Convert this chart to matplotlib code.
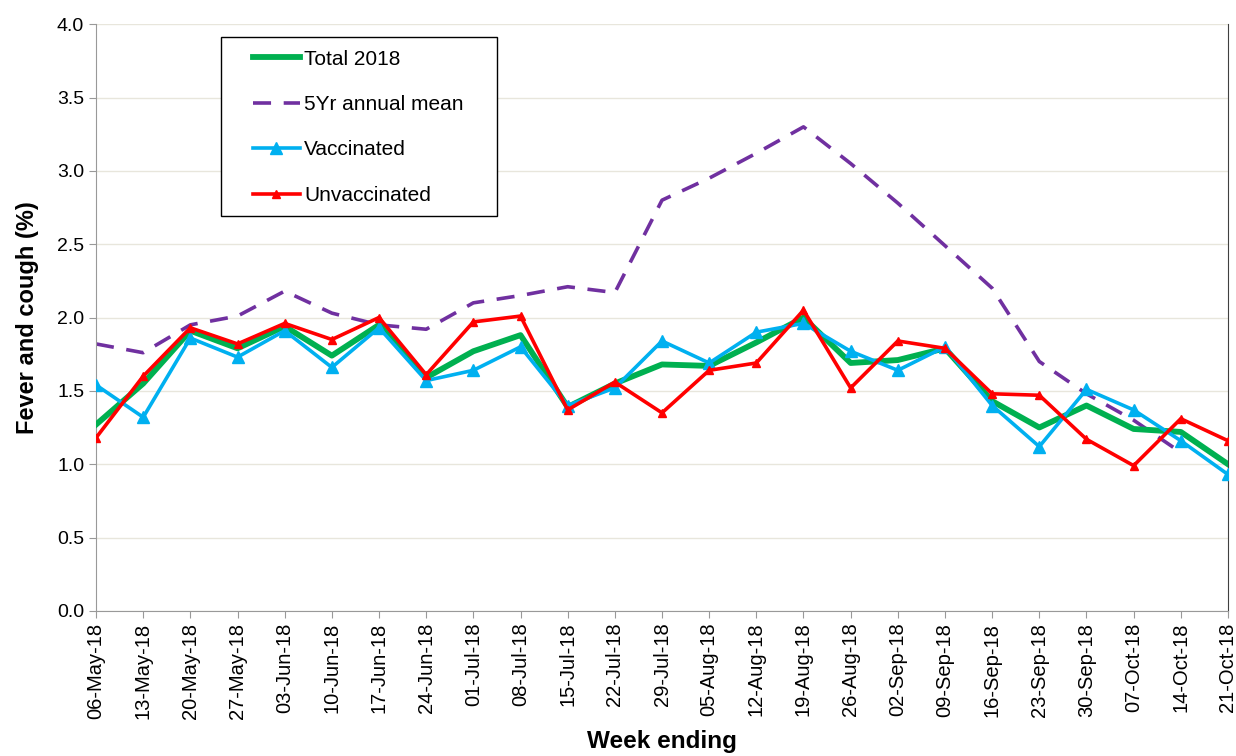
import matplotlib
matplotlib.use("Agg")
import matplotlib.pyplot as plt
from matplotlib.patches import Rectangle

plt.rcParams['font.family'] = ['Liberation Sans', 'DejaVu Sans']

weeks = ['06-May-18', '13-May-18', '20-May-18', '27-May-18', '03-Jun-18', '10-Jun-18',
         '17-Jun-18', '24-Jun-18', '01-Jul-18', '08-Jul-18', '15-Jul-18', '22-Jul-18',
         '29-Jul-18', '05-Aug-18', '12-Aug-18', '19-Aug-18', '26-Aug-18', '02-Sep-18',
         '09-Sep-18', '16-Sep-18', '23-Sep-18', '30-Sep-18', '07-Oct-18', '14-Oct-18',
         '21-Oct-18']

total_2018 = [1.27, 1.55, 1.91, 1.79, 1.94, 1.74, 1.95, 1.59, 1.77, 1.88, 1.39, 1.55,
              1.68, 1.67, 1.83, 2.00, 1.69, 1.71, 1.79, 1.43, 1.25, 1.40, 1.24, 1.22, 1.00]
mean_5yr = [1.82, 1.76, 1.95, 2.01, 2.18, 2.03, 1.95, 1.92, 2.10, 2.15, 2.21, 2.17,
            2.80, 2.95, 3.12, 3.30, 3.05, 2.78, 2.49, 2.20, 1.70, 1.48, 1.30, 1.08]
vaccinated = [1.54, 1.32, 1.86, 1.73, 1.91, 1.66, 1.93, 1.57, 1.64, 1.80, 1.40, 1.52,
              1.84, 1.69, 1.90, 1.96, 1.77, 1.64, 1.80, 1.40, 1.12, 1.51, 1.37, 1.16, 0.93]
unvaccinated = [1.18, 1.60, 1.93, 1.82, 1.96, 1.85, 2.00, 1.61, 1.97, 2.01, 1.37, 1.56,
                1.35, 1.64, 1.69, 2.05, 1.52, 1.84, 1.79, 1.48, 1.47, 1.17, 0.99, 1.31, 1.16]

fig = plt.figure(figsize=(12.36, 7.56), dpi=100)
ax = fig.add_axes([0.0777, 0.192, 0.9158, 0.776])

x = list(range(len(weeks)))
ax.plot(x, total_2018, color='#00b050', lw=4.2, label='Total 2018', zorder=3)
ax.plot(x[:len(mean_5yr)], mean_5yr, color='#7030a0', lw=2.6, dashes=(5, 3.5),
        label='5Yr annual mean', zorder=2)
ax.plot(x, vaccinated, color='#00b0f0', lw=2.6, marker='^', ms=8,
        label='Vaccinated', zorder=4)
ax.plot(x, unvaccinated, color='#ff0000', lw=2.6, marker='^', ms=6,
        label='Unvaccinated', zorder=5)

ax.set_xlim(0, len(weeks) - 1)
ax.set_ylim(0, 4.0)
ax.set_yticks([i * 0.5 for i in range(9)])
ax.set_yticklabels([f'{i * 0.5:.1f}' for i in range(9)], fontsize=14)
ax.set_xticks(x)
ax.set_xticklabels(weeks, rotation=90, fontsize=14.5)
ax.yaxis.grid(True, color='#e8e6dc', lw=1)
ax.set_axisbelow(True)
ax.tick_params(axis='both', color='#999999', length=5)

for s in ['left', 'bottom']:
    ax.spines[s].set_color('#999999')
ax.spines['top'].set_visible(False)
ax.spines['right'].set_color('#404040')

ax.set_ylabel('Fever and cough (%)', fontsize=17, fontweight='bold', labelpad=13)
ax.set_xlabel('Week ending', fontsize=17.5, fontweight='bold', labelpad=8)

# legend box (frame drawn separately to get the wide side padding)
ax.add_patch(Rectangle((0.1788, 0.7143), 0.2233, 0.2368, transform=fig.transFigure,
                       facecolor='white', edgecolor='black', lw=1.0, zorder=10,
                       clip_on=False))
leg = ax.legend(loc='upper left', bbox_to_anchor=(0.2047, 0.9345),
                bbox_transform=fig.transFigure, fontsize=15, frameon=False,
                handlelength=2.25, labelspacing=1.27, borderpad=0,
                handletextpad=0.2, borderaxespad=0)
leg.set_zorder(11)

fig.savefig('out.png', dpi=100)
